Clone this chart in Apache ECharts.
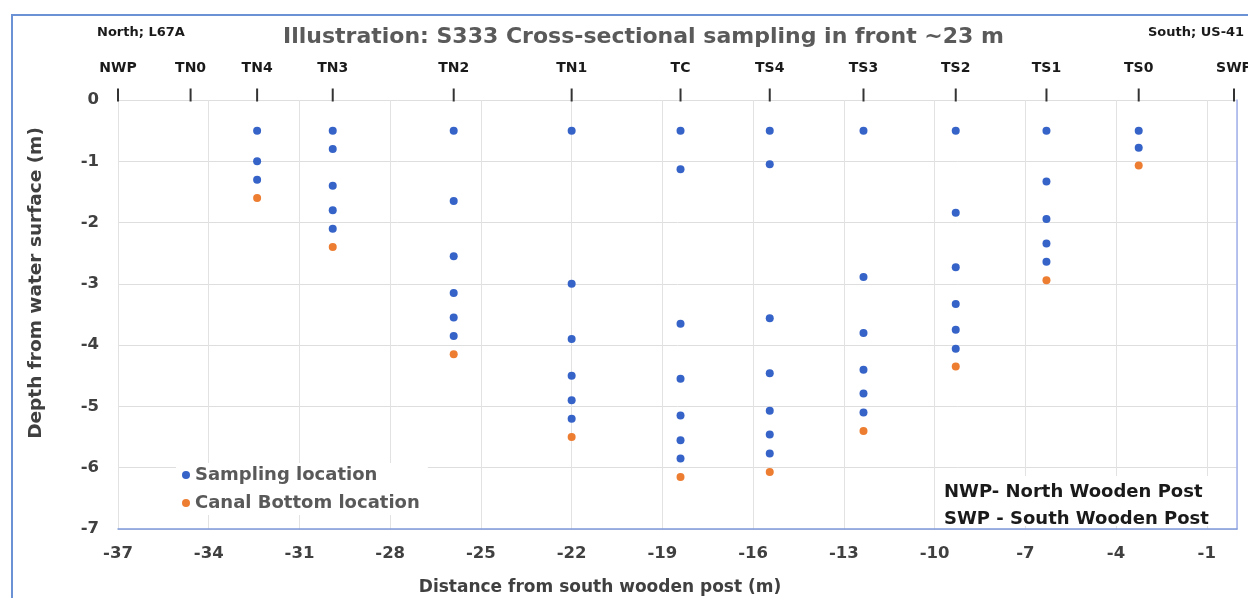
<!DOCTYPE html>
<html>
<head>
<meta charset="utf-8">
<script src="https://cdn.jsdelivr.net/npm/echarts@6/dist/echarts.min.js"></script>
<style>
  html, body { margin: 0; padding: 0; background: #fff; }
  #chart { width: 1248px; height: 598px; }
</style>
</head>
<body>
<div id="chart"></div>
<script>
// station names along the top and where they sit on the x axis
const stations = ['NWP', 'TN0', 'TN4', 'TN3', 'TN2', 'TN1', 'TC', 'TS4', 'TS3', 'TS2', 'TS1', 'TS0', 'SWP'];
const stationX = [-37, -34.6, -32.4, -29.9, -25.9, -22, -18.4, -15.45, -12.35, -9.3, -6.3, -3.25, -0.1];

// [distance, depth]
const samplingPoints = [
  [-32.4, -0.5], [-32.4, -1.0], [-32.4, -1.3],
  [-29.9, -0.5], [-29.9, -0.8], [-29.9, -1.4], [-29.9, -1.8], [-29.9, -2.1],
  [-25.9, -0.5], [-25.9, -1.65], [-25.9, -2.55], [-25.9, -3.15], [-25.9, -3.55], [-25.9, -3.85],
  [-22, -0.5], [-22, -3.0], [-22, -3.9], [-22, -4.5], [-22, -4.9], [-22, -5.2],
  [-18.4, -0.5], [-18.4, -1.13], [-18.4, -3.65], [-18.4, -4.55], [-18.4, -5.15], [-18.4, -5.55], [-18.4, -5.85],
  [-15.45, -0.5], [-15.45, -1.05], [-15.45, -3.56], [-15.45, -4.46], [-15.45, -5.07], [-15.45, -5.46], [-15.45, -5.77],
  [-12.35, -0.5], [-12.35, -2.89], [-12.35, -3.8], [-12.35, -4.4], [-12.35, -4.79], [-12.35, -5.1],
  [-9.3, -0.5], [-9.3, -1.84], [-9.3, -2.73], [-9.3, -3.33], [-9.3, -3.75], [-9.3, -4.06],
  [-6.3, -0.5], [-6.3, -1.33], [-6.3, -1.94], [-6.3, -2.34], [-6.3, -2.64],
  [-3.25, -0.5], [-3.25, -0.78]
];
const bottomPoints = [
  [-32.4, -1.6], [-29.9, -2.4], [-25.9, -4.15], [-22, -5.5], [-18.4, -6.15],
  [-15.45, -6.07], [-12.35, -5.4], [-9.3, -4.35], [-6.3, -2.94], [-3.25, -1.07]
];

const font = 'DejaVu Sans';
const axisText = { fontFamily: font, fontSize: 16.5, fontWeight: 'bold', color: '#404040' };

const chart = echarts.init(document.getElementById('chart'));

chart.setOption({
  animation: false,
  grid: { left: 118, top: 100, right: 11, bottom: 69, containLabel: false },
  xAxis: {
    type: 'value',
    min: -37,
    max: 0,
    interval: 3,
    axisLine: { show: true, onZero: false, lineStyle: { color: '#7f9bdc', width: 1.5 } },
    axisTick: { show: false },
    axisLabel: Object.assign({ margin: 16, showMaxLabel: false }, axisText),
    splitLine: { show: true, lineStyle: { color: '#e2e2e2', width: 1 } }
  },
  yAxis: {
    type: 'value',
    min: -7,
    max: 0,
    interval: 1,
    axisLine: { show: true, lineStyle: { color: '#a3b0ec', width: 1.5 } },
    axisTick: { show: false },
    axisLabel: Object.assign({ margin: 19 }, axisText),
    splitLine: { show: true, lineStyle: { color: '#dedede', width: 1 } }
  },
  legend: {
    data: ['Sampling location', 'Canal Bottom location'],
    orient: 'vertical',
    left: 176,
    top: 463,
    itemGap: 10,
    itemWidth: 8,
    itemHeight: 8,
    backgroundColor: '#fff',
    padding: [3, 8, 3, 6],
    textStyle: { fontFamily: font, fontSize: 18, fontWeight: 'bold', color: '#595959' }
  },
  graphic: [
    {
      type: 'rect',
      silent: true,
      z: 10,
      shape: { x: 12, y: 15, width: 1400, height: 800 },
      style: { fill: 'none', stroke: '#6c92d6', lineWidth: 2 }
    },
    {
      type: 'text',
      z: 10,
      left: 283,
      top: 26,
      style: { text: 'Illustration: S333 Cross-sectional sampling in front ~23 m', font: 'bold 22px "DejaVu Sans"', fill: '#5a5a5a' }
    },
    {
      type: 'text',
      z: 10,
      left: 97,
      top: 26,
      style: { text: 'North; L67A', font: 'bold 13px "DejaVu Sans"', fill: '#1a1a1a' }
    },
    {
      type: 'text',
      z: 10,
      left: 1148,
      top: 26,
      style: { text: 'South; US-41', font: 'bold 13px "DejaVu Sans"', fill: '#1a1a1a' }
    },
    {
      type: 'text',
      z: 10,
      x: 600,
      y: 588,
      style: { text: 'Distance from south wooden post (m)', font: 'bold 17px "DejaVu Sans"', fill: '#404040', align: 'center', verticalAlign: 'middle' }
    },
    {
      type: 'text',
      z: 10,
      x: 36,
      y: 283,
      rotation: Math.PI / 2,
      style: { text: 'Depth from water surface (m)', font: 'bold 18.5px "DejaVu Sans"', fill: '#404040', align: 'center', verticalAlign: 'middle' }
    },
    {
      type: 'rect',
      silent: true,
      z: 9,
      shape: { x: 936, y: 476, width: 290, height: 50 },
      style: { fill: '#fff' }
    },
    {
      type: 'text',
      z: 10,
      x: 944,
      y: 492,
      style: { text: 'NWP- North Wooden Post', font: 'bold 18px "DejaVu Sans"', fill: '#1a1a1a', verticalAlign: 'middle' }
    },
    {
      type: 'text',
      z: 10,
      x: 944,
      y: 519,
      style: { text: 'SWP - South Wooden Post', font: 'bold 18px "DejaVu Sans"', fill: '#1a1a1a', verticalAlign: 'middle' }
    }
  ],
  series: [
    {
      name: 'stations',
      type: 'scatter',
      clip: false,
      symbol: 'rect',
      symbolSize: [2, 13],
      symbolOffset: [0, -5],
      itemStyle: { color: '#333', opacity: 1 },
      label: {
        show: true,
        position: 'top',
        distance: 13,
        formatter: p => p.name,
        fontFamily: font,
        fontSize: 14,
        fontWeight: 'bold',
        color: '#1a1a1a'
      },
      data: stations.map((s, i) => ({ name: s, value: [stationX[i], 0] })),
      z: 3
    },
    {
      name: 'Sampling location',
      type: 'scatter',
      symbol: 'circle',
      symbolSize: 8,
      itemStyle: { color: '#3563c8', opacity: 1 },
      data: samplingPoints,
      z: 4
    },
    {
      name: 'Canal Bottom location',
      type: 'scatter',
      symbol: 'circle',
      symbolSize: 8,
      itemStyle: { color: '#ed7d31', opacity: 1 },
      data: bottomPoints,
      z: 4
    }
  ]
});
</script>
</body>
</html>
